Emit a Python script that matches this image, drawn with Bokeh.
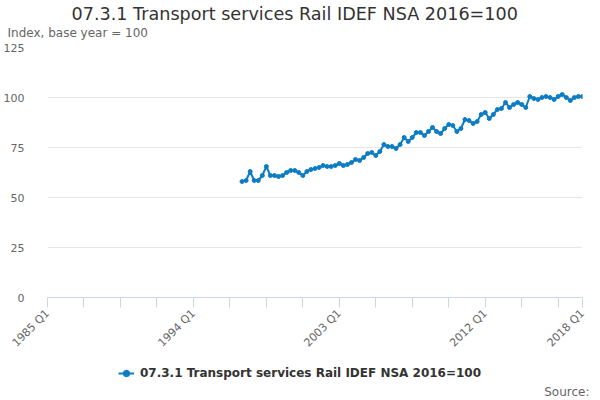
import math
from bokeh.plotting import figure
from bokeh.layouts import column
from bokeh.models import ColumnDataSource, FixedTicker, Legend, LegendItem, Range1d, Title
from bokeh.embed import file_html
from bokeh.resources import INLINE

TITLE = "07.3.1 Transport services Rail IDEF NSA 2016=100"
SUBTITLE = "Index, base year = 100"
SERIES_NAME = "07.3.1 Transport services Rail IDEF NSA 2016=100"
SOURCE = "Source:"

# quarterly categories 1985 Q1 .. 2018 Q1
quarters = [f"{y} Q{q}" for y in range(1985, 2019) for q in range(1, 5)][:133]

# values start at 1997 Q1
start_quarter = "1997 Q1"
values = [58, 58.5, 63, 58.5, 58.5, 61, 65.5, 61, 61, 60.5, 61, 62.5, 63.5, 63.5, 62.5, 61,
          63, 64, 64.5, 65, 66, 65.5, 65.5, 66, 67, 66, 66.5, 67.5, 69, 68.5, 70, 72,
          72.5, 71, 73, 76.5, 75.5, 75.5, 74.5, 76.5, 80, 78, 80, 82.5, 82.5, 81, 83, 85,
          83, 82, 84.5, 86.5, 86, 83, 84.5, 89, 88.5, 87, 88, 91.5, 92.5, 89.5, 91.5, 94,
          94.5, 97.5, 95, 96.5, 97.5, 96.5, 95, 100.5, 99.5, 99, 100, 100.5, 100, 99, 100.5,
          101.5, 100, 98.5, 100, 100.5, 100.5]

y_ticks = [0, 25, 50, 75, 100, 125]
x_tick_step = 9
x_label_step = 36

i0 = quarters.index(start_quarter)
xs = list(range(i0, i0 + len(values)))
src = ColumnDataSource(dict(x=xs, y=values, q=quarters[i0:i0 + len(values)]))

COLOR = "#0c7cc4"
FONT = "DejaVu Sans"
W = 590

p = figure(width=W, height=360, output_backend="svg", toolbar_location=None,
           x_range=Range1d(0, len(quarters) - 1), y_range=Range1d(0, 125),
           min_border_left=47, min_border_right=8, min_border_top=47, min_border_bottom=63)
p.outline_line_color = None
p.background_fill_color = "white"
p.border_fill_color = "white"

r = p.line("x", "y", source=src, line_color=COLOR, line_width=2)
rc = p.scatter("x", "y", source=src, size=4, fill_color=COLOR, line_color=COLOR)

# axes
xt = list(range(0, len(quarters), x_tick_step))
if xt[-1] != len(quarters) - 1:
    xt.append(len(quarters) - 1)
p.xaxis.ticker = FixedTicker(ticks=xt)
overrides = {}
for t in xt:
    if t % x_label_step == 0 or t == len(quarters) - 1:
        overrides[t] = quarters[t]
    else:
        overrides[t] = ""
p.xaxis.major_label_overrides = overrides
p.xaxis.major_label_orientation = math.pi / 4
p.xaxis.axis_line_color = "#ccd6eb"
p.xaxis.major_tick_line_color = "#ccd6eb"
p.xaxis.major_tick_out = 10
p.xaxis.major_tick_in = 0
p.xaxis.minor_tick_line_color = None
p.xaxis.major_label_text_color = "#666666"
p.xaxis.major_label_text_font = FONT
p.xaxis.major_label_text_font_size = "11px"
p.xaxis.major_label_standoff = 4

p.yaxis.ticker = FixedTicker(ticks=y_ticks)
p.yaxis.axis_line_color = None
p.yaxis.major_tick_line_color = None
p.yaxis.minor_tick_line_color = None
p.yaxis.major_label_text_color = "#666666"
p.yaxis.major_label_text_font = FONT
p.yaxis.major_label_text_font_size = "11px"
p.yaxis.major_label_standoff = 17

p.xgrid.grid_line_color = None
p.ygrid.grid_line_color = "#e6e6e6"
p.ygrid.ticker = FixedTicker(ticks=y_ticks)

# titles
p.title = Title(text=TITLE, align="left", text_font=FONT, text_font_size="17.6px",
                text_color="#333333", text_font_style="normal", standoff=-16, offset=24)
p.add_layout(Title(text=SUBTITLE, align="left", text_font=FONT, text_font_size="12px",
                   text_color="#666666", text_font_style="normal", standoff=16, offset=-40), "above")

# footer strip: legend and source
H2 = 38
f = figure(width=W, height=H2, output_backend="svg", toolbar_location=None,
           x_range=Range1d(0, 1), y_range=Range1d(0, 1),
           x_axis_type=None, y_axis_type=None,
           min_border_left=47, min_border_right=8, min_border_top=0, min_border_bottom=0)
f.outline_line_color = None
f.xgrid.grid_line_color = None
f.ygrid.grid_line_color = None
f.background_fill_color = "white"
f.border_fill_color = "white"
# legend key glyphs (placed outside the visible range; only used for the legend key)
lr = f.line(x=[-10, -9], y=[-10, -10], line_color=COLOR, line_width=2)
lc = f.scatter(x=[-10], y=[-10], size=4, fill_color=COLOR, line_color=COLOR)
legend = Legend(items=[LegendItem(label=SERIES_NAME, renderers=[lr, lc])],
                location=(71, 1), orientation="horizontal",
                padding=0, margin=0, spacing=0, border_line_color=None,
                background_fill_alpha=0, glyph_width=16, glyph_height=16,
                label_height=16, label_standoff=6,
                label_text_font=FONT, label_text_font_size="12px",
                label_text_font_style="bold", label_text_color="#333333")
f.add_layout(legend, "center")
f.add_layout(Title(text=SOURCE, align="right", text_font=FONT, text_font_size="12px",
                   text_color="#666666", text_font_style="normal", standoff=0, offset=-7), "below")

layout = column(p, f, spacing=0)
open("out.html", "w").write(file_html(layout, INLINE))
